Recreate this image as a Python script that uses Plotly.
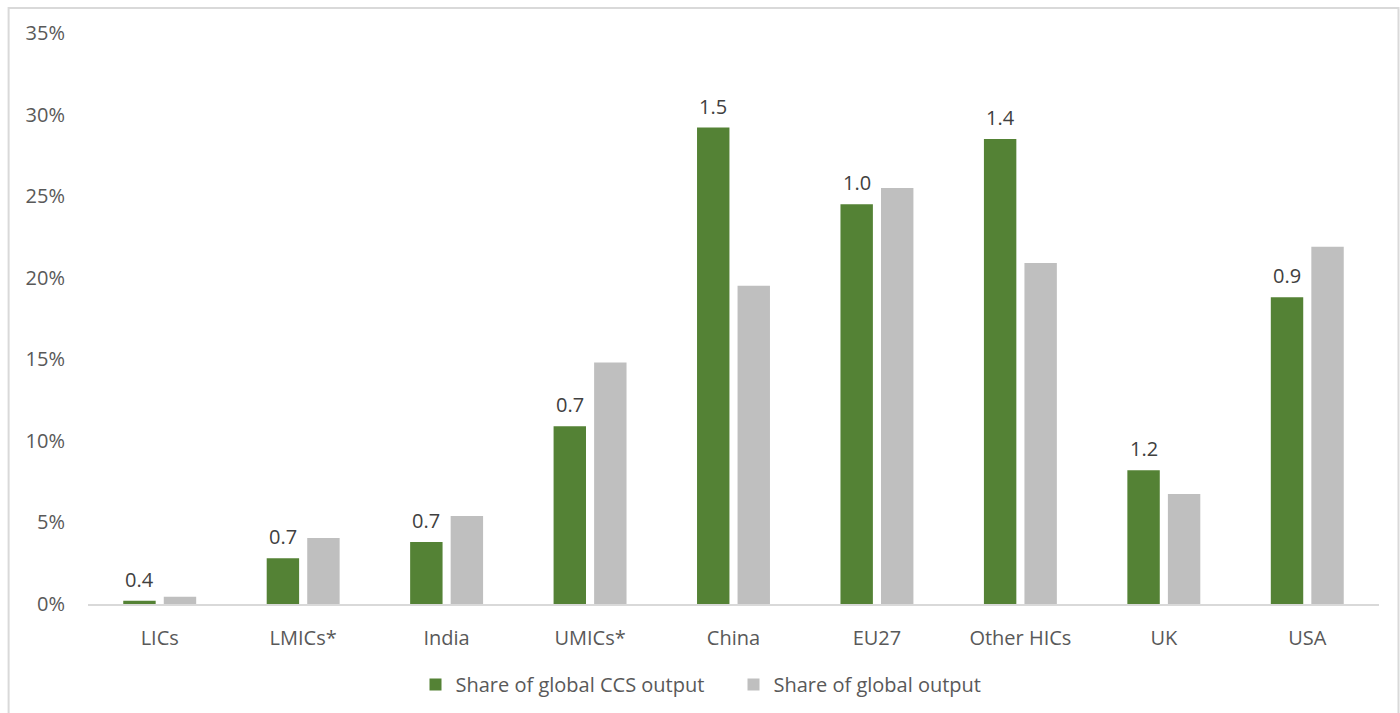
import plotly.graph_objects as go

# Regions / income groups
categories = ["LICs", "LMICs*", "India", "UMICs*", "China", "EU27", "Other HICs", "UK", "USA"]

# Share of global CCS output (%)
ccs_share = [0.2, 2.8, 3.8, 10.9, 29.2, 24.5, 28.5, 8.2, 18.8]

# Share of global output (%)
output_share = [0.45, 4.05, 5.4, 14.8, 19.5, 25.5, 20.9, 6.75, 21.9]

# Ratio of CCS share to output share, shown above the green bars
ratio_labels = ["0.4", "0.7", "0.7", "0.7", "1.5", "1.0", "1.4", "1.2", "0.9"]

# Y axis ticks
y_ticks = [0, 5, 10, 15, 20, 25, 30, 35]
y_tick_text = ["0%", "5%", "10%", "15%", "20%", "25%", "30%", "35%"]

GREEN = "#548235"
GREY = "#BFBFBF"
TEXT = "#595959"
LABEL = "#404040"
FONT = "'Open Sans', sans-serif"
FS = 20

W, H = 1400, 713
M = dict(l=88, r=21, t=33, b=109)
BARGAP, GROUPGAP = 0.435, 0.2

fig = go.Figure()
fig.add_trace(go.Bar(
    x=categories, y=ccs_share, name="Share of global CCS output",
    marker=dict(color=GREEN, line=dict(width=0)),
    hoverinfo="x+y",
))
fig.add_trace(go.Bar(
    x=categories, y=output_share, name="Share of global output",
    marker=dict(color=GREY, line=dict(width=0)),
    hoverinfo="x+y",
))

# Ratio labels sit above the first bar of each group
cat_px = (W - M["l"] - M["r"]) / len(categories)
green_offset = -cat_px * (1 - BARGAP) / 4
for cat, val, lab in zip(categories, ccs_share, ratio_labels):
    fig.add_annotation(
        x=cat, y=val, text=lab, showarrow=False,
        xref="x", yref="y", xanchor="center", yanchor="bottom",
        xshift=green_offset, yshift=6,
        font=dict(family=FONT, size=FS, color=LABEL),
    )

fig.update_layout(
    width=W, height=H,
    margin=dict(**M, autoexpand=False),
    paper_bgcolor="white", plot_bgcolor="white",
    barmode="group", bargap=BARGAP, bargroupgap=GROUPGAP,
    font=dict(family=FONT, size=FS, color=TEXT),
    showlegend=True,
    legend=dict(
        orientation="h", x=0.5, xanchor="center",
        yref="container", y=0.04, yanchor="middle",
        font=dict(family=FONT, size=FS, color=TEXT),
        traceorder="normal", entrywidth=273, entrywidthmode="pixels",
        itemwidth=30,
    ),
    xaxis=dict(
        showgrid=False, showline=True, linecolor="#D9D9D9", linewidth=2,
        ticks="", tickfont=dict(family=FONT, size=FS, color=TEXT),
        ticklabelstandoff=15, fixedrange=True,
    ),
    yaxis=dict(
        range=[0, 35], tickvals=y_ticks, ticktext=y_tick_text,
        showgrid=False, zeroline=False, showline=False, ticks="",
        tickfont=dict(family=FONT, size=FS, color=TEXT),
        ticklabelstandoff=22, fixedrange=True,
    ),
    shapes=[dict(
        type="rect", xref="paper", yref="paper",
        x0=-0.0615, x1=1.0151, y0=-0.25, y1=1.0438,
        line=dict(color="#D9D9D9", width=2), fillcolor="rgba(0,0,0,0)",
        layer="below",
    )],
)

fig.write_html("out.html", config={"displayModeBar": False})
